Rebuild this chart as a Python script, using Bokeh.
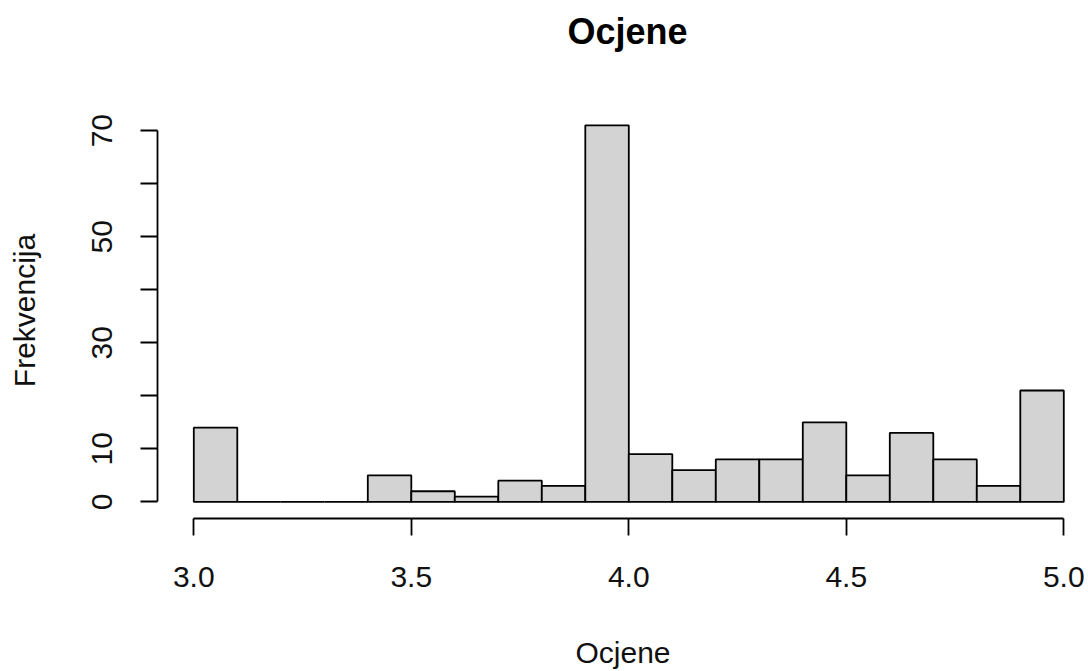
from bokeh.plotting import figure
from bokeh.models import Range1d, LinearAxis, FixedTicker, Title
from bokeh.embed import file_html
from bokeh.resources import INLINE

# --- data (histogram of Ocjene, bin width 0.1) ---
bin_left = [3.0, 3.1, 3.2, 3.3, 3.4, 3.5, 3.6, 3.7, 3.8, 3.9,
            4.0, 4.1, 4.2, 4.3, 4.4, 4.5, 4.6, 4.7, 4.8, 4.9]
bin_right = [3.1, 3.2, 3.3, 3.4, 3.5, 3.6, 3.7, 3.8, 3.9, 4.0,
             4.1, 4.2, 4.3, 4.4, 4.5, 4.6, 4.7, 4.8, 4.9, 5.0]
counts = [14, 0, 0, 0, 5, 2, 1, 4, 3, 71,
          9, 6, 8, 8, 15, 5, 13, 8, 3, 21]
x_ticks = [3.0, 3.5, 4.0, 4.5, 5.0]
x_tick_labels = ["3.0", "3.5", "4.0", "4.5", "5.0"]
y_ticks = [0, 10, 20, 30, 40, 50, 60, 70]
y_tick_labels = ["0", "10", "", "30", "", "50", "", "70"]
title_text = "Ocjene"
x_title = "Ocjene"
y_title = "Frekvencija"

FONT = "Liberation Sans"

p = figure(width=1088, height=671, title=None,
           x_range=Range1d(2.91655, 5.05678), y_range=Range1d(-3.134, 75.31),
           min_border_left=157, min_border_right=0,
           min_border_top=101, min_border_bottom=152,
           output_backend="svg", toolbar_location=None,
           x_axis_type=None, y_axis_type=None)
p.outline_line_color = None
p.xgrid.visible = False
p.ygrid.visible = False
p.background_fill_color = "white"
p.border_fill_color = "white"

# spacer nearest the frame (first added), then the main title above it
p.add_layout(Title(text=" ", text_font_size="1px", text_color="white",
                   standoff=40), "above")
p.add_layout(Title(text=title_text, align="left", offset=410, standoff=16,
                   text_font=FONT, text_font_size="36px",
                   text_font_style="bold", text_color="black"), "above")

p.quad(left=bin_left, right=bin_right, top=counts, bottom=0,
       fill_color="#D3D3D3", line_color="black", line_width=1.8)

xa = LinearAxis(ticker=FixedTicker(ticks=x_ticks), bounds=(3.0, 5.0))
xa.major_label_overrides = {t: l for t, l in zip(x_ticks, x_tick_labels)}
xa.minor_tick_line_color = None
xa.major_tick_in = 0
xa.major_tick_out = 17
xa.major_label_standoff = 31
xa.axis_line_width = 1.8
xa.major_tick_line_width = 1.8
xa.major_label_text_font = FONT
xa.major_label_text_font_size = "30px"
xa.major_label_text_color = "#111111"
xa.axis_label = x_title
xa.axis_label_text_font = FONT
xa.axis_label_text_font_size = "30px"
xa.axis_label_text_font_style = "normal"
xa.axis_label_text_color = "#111111"
xa.axis_label_standoff = 46
p.add_layout(xa, "below")

ya = LinearAxis(ticker=FixedTicker(ticks=y_ticks), bounds=(0, 70))
ya.major_label_overrides = {t: l for t, l in zip(y_ticks, y_tick_labels)}
ya.minor_tick_line_color = None
ya.major_tick_in = 0
ya.major_tick_out = 17
ya.major_label_standoff = 28
ya.major_label_orientation = "vertical"
ya.axis_line_width = 1.8
ya.major_tick_line_width = 1.8
ya.major_label_text_font = FONT
ya.major_label_text_font_size = "30px"
ya.major_label_text_color = "#111111"
ya.axis_label = y_title
ya.axis_label_text_font = FONT
ya.axis_label_text_font_size = "30px"
ya.axis_label_text_font_style = "normal"
ya.axis_label_text_color = "#111111"
ya.axis_label_standoff = 49
p.add_layout(ya, "left")

open("out.html", "w").write(file_html(p, INLINE))
